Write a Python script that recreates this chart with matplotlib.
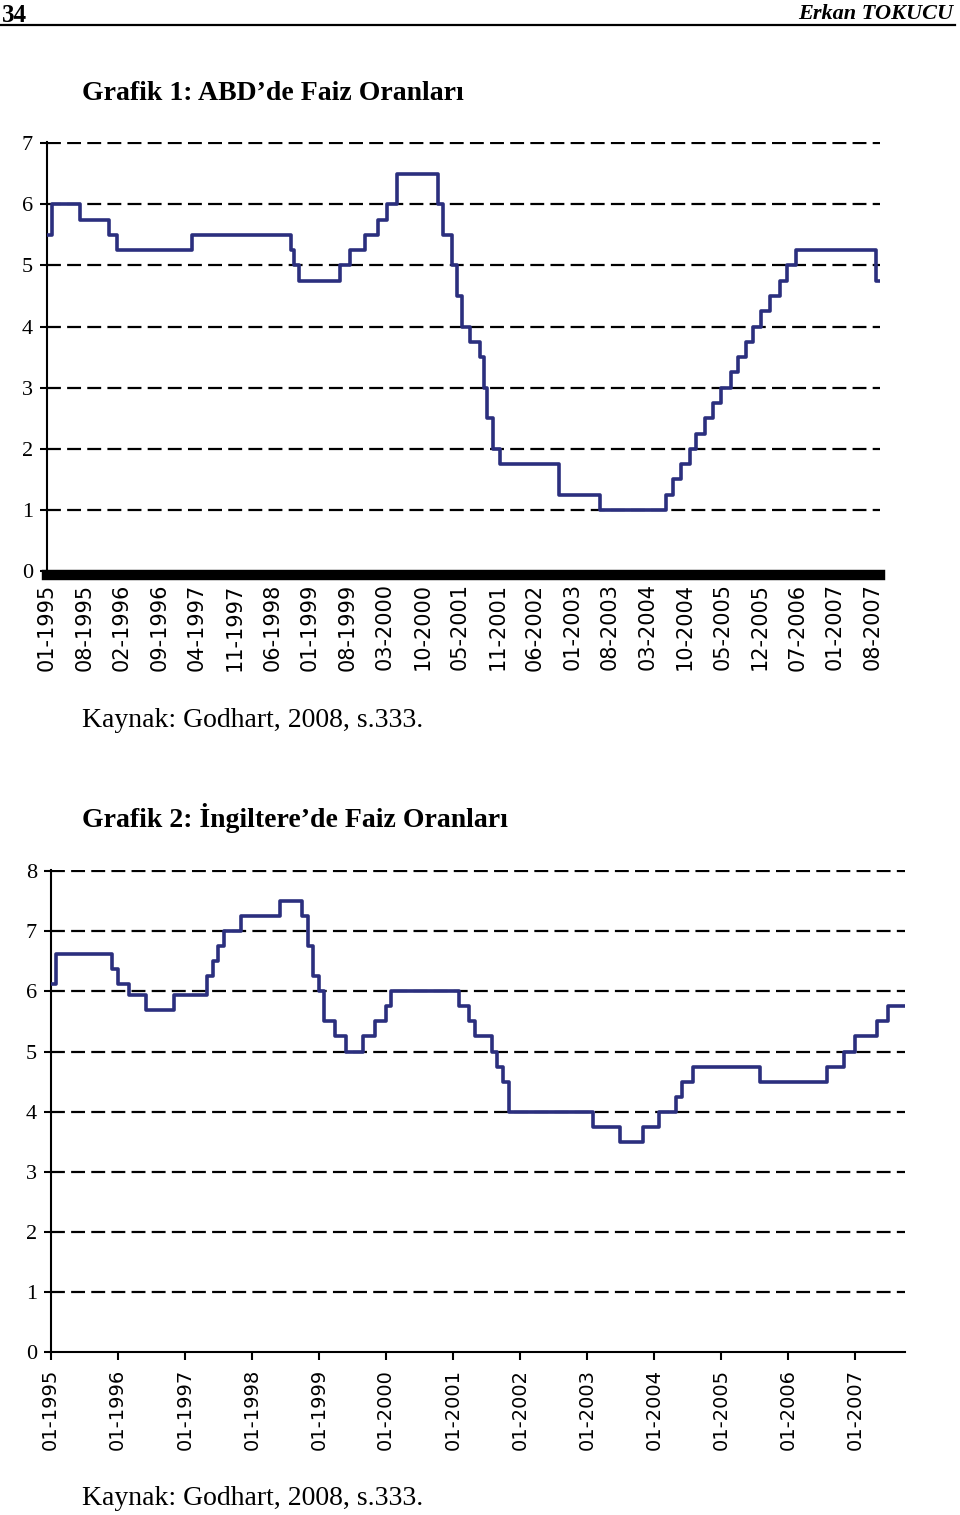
import matplotlib
matplotlib.use("Agg")
import matplotlib.pyplot as plt
from matplotlib.lines import Line2D
import pandas as pd

plt.rcParams['font.family'] = ['Liberation Serif', 'DejaVu Serif']
plt.rcParams['lines.scale_dashes'] = False

# Grafik 1: ABD faiz oranlari (haftalik eksen)
us_dates = ['1995-01-04', '1995-02-01', '1995-07-06', '1995-12-19', '1996-01-31',
            '1997-03-25', '1998-09-29', '1998-10-15', '1998-11-17', '1999-06-30',
            '1999-08-24', '1999-11-16', '2000-02-02', '2000-03-21', '2000-05-16',
            '2001-01-03', '2001-01-31', '2001-03-20', '2001-04-18', '2001-05-15',
            '2001-06-27', '2001-08-21', '2001-09-17', '2001-10-02', '2001-11-06',
            '2001-12-11', '2002-11-06', '2003-06-25', '2004-06-30', '2004-08-10',
            '2004-09-21', '2004-11-10', '2004-12-14', '2005-02-02', '2005-03-22',
            '2005-05-03', '2005-06-30', '2005-08-09', '2005-09-20', '2005-11-01',
            '2005-12-13', '2006-01-31', '2006-03-28', '2006-05-10', '2006-06-29',
            '2007-09-18']
us_rates = [5.50, 6.00, 5.75, 5.50, 5.25,
            5.50, 5.25, 5.00, 4.75, 5.00,
            5.25, 5.50, 5.75, 6.00, 6.50,
            6.00, 5.50, 5.00, 4.50, 4.00,
            3.75, 3.50, 3.00, 2.50, 2.00,
            1.75, 1.25, 1.00, 1.25, 1.50,
            1.75, 2.00, 2.25, 2.50, 2.75,
            3.00, 3.25, 3.50, 3.75, 4.00,
            4.25, 4.50, 4.75, 5.00, 5.25,
            4.75]
us_end = '2007-10-10'
us_tick_labels = ['01-1995', '08-1995', '02-1996', '09-1996', '04-1997', '11-1997',
                  '06-1998', '01-1999', '08-1999', '03-2000', '10-2000', '05-2001',
                  '11-2001', '06-2002', '01-2003', '08-2003', '03-2004', '10-2004',
                  '05-2005', '12-2005', '07-2006', '01-2007', '08-2007']

# Grafik 2: Ingiltere faiz oranlari (aylik)
uk_dates = ['1995-01', '1995-02', '1995-12', '1996-01', '1996-03', '1996-06',
            '1996-11', '1997-05', '1997-06', '1997-07', '1997-08', '1997-11',
            '1998-06', '1998-10', '1998-11', '1998-12', '1999-01', '1999-02',
            '1999-04', '1999-06', '1999-09', '1999-11', '2000-01', '2000-02',
            '2001-02', '2001-04', '2001-05', '2001-08', '2001-09', '2001-10',
            '2001-11', '2003-02', '2003-07', '2003-11', '2004-02', '2004-05',
            '2004-06', '2004-08', '2005-08', '2006-08', '2006-11', '2007-01',
            '2007-05', '2007-07']
uk_rates = [6.13, 6.63, 6.38, 6.13, 5.94, 5.69,
            5.94, 6.25, 6.50, 6.75, 7.00, 7.25,
            7.50, 7.25, 6.75, 6.25, 6.00, 5.50,
            5.25, 5.00, 5.25, 5.50, 5.75, 6.00,
            5.75, 5.50, 5.25, 5.00, 4.75, 4.50,
            4.00, 3.75, 3.50, 3.75, 4.00, 4.25,
            4.50, 4.75, 4.50, 4.75, 5.00, 5.25,
            5.50, 5.75]
uk_end = '2007-10'
uk_tick_labels = ['01-1995', '01-1996', '01-1997', '01-1998', '01-1999', '01-2000',
                  '01-2001', '01-2002', '01-2003', '01-2004', '01-2005', '01-2006',
                  '01-2007']

line_color = '#2b2f7e'
grid_style = (0, (10, 4.5))
W, H = 960, 1515

fig = plt.figure(figsize=(9.6, 15.15), dpi=100)

# sayfa basligi
fig.text(2 / W, 1 - 22 / H, '34', fontsize=18, fontweight='bold', va='baseline')
fig.text(953 / W, 1 - 19 / H, 'Erkan TOKUCU', fontsize=16, fontweight='bold',
         fontstyle='italic', ha='right', va='baseline')
fig.add_artist(Line2D([0, 955 / W], [1 - 25 / H, 1 - 25 / H], color='black', lw=1.6))

fig.text(82 / W, 1 - 100 / H, 'Grafik 1: ABD’de Faiz Oranları', fontsize=20,
         fontweight='bold', va='baseline')
fig.text(82 / W, 1 - 727 / H, 'Kaynak: Godhart, 2008, s.333.', fontsize=20, va='baseline')
fig.text(82 / W, 1 - 827 / H, 'Grafik 2: İngiltere’de Faiz Oranları', fontsize=20,
         fontweight='bold', va='baseline')
fig.text(82 / W, 1 - 1505 / H, 'Kaynak: Godhart, 2008, s.333.', fontsize=20, va='baseline')

# Grafik 1
ax1 = fig.add_axes([47 / W, 1 - 571 / H, (880 - 47) / W, (571 - 142) / H])
x1 = pd.to_datetime(us_dates + [us_end]).to_pydatetime()
y1 = us_rates + [us_rates[-1]]
ax1.step(x1, y1, where='post', color=line_color, lw=2.6, zorder=3)
ax1.set_xlim(pd.Timestamp('1995-01-04').to_pydatetime(), pd.Timestamp(us_end).to_pydatetime())
ax1.set_ylim(0, 7.02)
ax1.set_yticks(range(0, 8))
ticks1 = pd.date_range('1995-01-04', periods=len(us_tick_labels), freq='210D').to_pydatetime()
ax1.set_xticks(list(ticks1), us_tick_labels)
for y in range(1, 8):
    ax1.axhline(y, color='black', lw=1.6, linestyle=grid_style, zorder=1)
ax1.spines['top'].set_visible(False)
ax1.spines['right'].set_visible(False)
ax1.spines['left'].set_linewidth(1.5)
ax1.spines['bottom'].set_linewidth(7.5)
ax1.spines['bottom'].set_position(('outward', 3))
ax1.tick_params(axis='y', length=5, width=1.5, labelsize=16, pad=5)
ax1.tick_params(axis='x', length=0, pad=6)
plt.setp(ax1.get_xticklabels(), rotation=90, family='DejaVu Sans', fontsize=15)

# Grafik 2
ax2 = fig.add_axes([50.7 / W, 1 - 1352 / H, (905 - 50.7) / W, (1352 - 870) / H])
x2 = pd.to_datetime(uk_dates + [uk_end], format='%Y-%m').to_pydatetime()
y2 = uk_rates + [uk_rates[-1]]
ax2.step(x2, y2, where='post', color=line_color, lw=2.6, zorder=3)
ax2.set_xlim(pd.Timestamp('1995-01-01').to_pydatetime(), pd.Timestamp('2007-10-01').to_pydatetime())
ax2.set_ylim(0, 8.02)
ax2.set_yticks(range(0, 9))
ticks2 = pd.to_datetime(uk_tick_labels, format='%m-%Y').to_pydatetime()
ax2.set_xticks(list(ticks2), uk_tick_labels)
for y in range(1, 9):
    ax2.axhline(y, color='black', lw=1.6, linestyle=grid_style, zorder=1)
ax2.spines['top'].set_visible(False)
ax2.spines['right'].set_visible(False)
ax2.spines['left'].set_linewidth(1.5)
ax2.spines['bottom'].set_linewidth(1.5)
ax2.tick_params(axis='y', length=5, width=1.5, labelsize=16, pad=5)
ax2.tick_params(axis='x', length=6, width=1.5, pad=6)
plt.setp(ax2.get_xticklabels(), rotation=90, family='DejaVu Sans', fontsize=14)

fig.savefig('out.png', dpi=100)
